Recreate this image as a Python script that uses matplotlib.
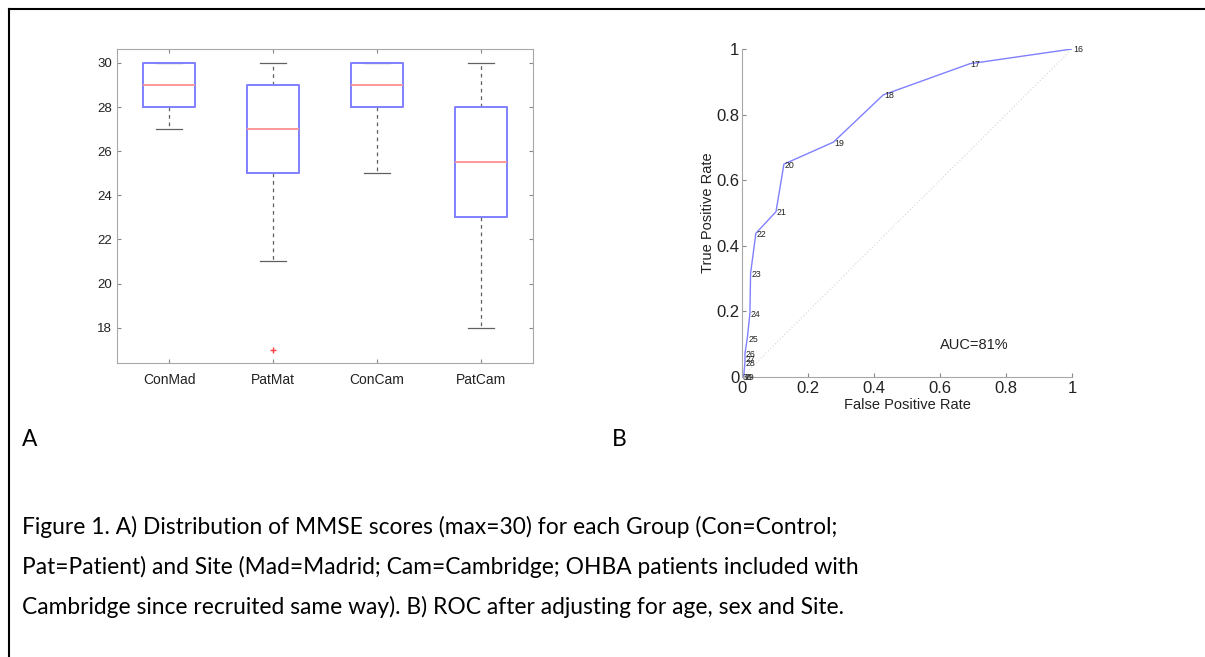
import matplotlib.pyplot as plt
from matplotlib.lines import Line2D

# Panel A - MMSE box plot stats
groups = ["ConMad", "PatMat", "ConCam", "PatCam"]
q1 = [28, 25, 28, 23]
med = [29, 27, 29, 25.5]
q3 = [30, 29, 30, 28]
whis_lo = [27, 21, 25, 18]
whis_hi = [30, 30, 30, 30]
outliers = [[], [17], [], []]
mmse_ticks = [18, 20, 22, 24, 26, 28, 30]

# Panel B - ROC curve (threshold labels 16..30)
fpr = [1.0, 0.69, 0.428, 0.277, 0.127, 0.103, 0.042, 0.026, 0.024, 0.016, 0.009, 0.009, 0.009, 0.005, 0.0]
tpr = [1.0, 0.955, 0.86, 0.716, 0.649, 0.504, 0.438, 0.316, 0.194, 0.118, 0.072, 0.055, 0.045, 0.0, 0.0]
thresholds = [16, 17, 18, 19, 20, 21, 22, 23, 24, 25, 26, 27, 28, 29, 30]
roc_ticks = [0, 0.2, 0.4, 0.6, 0.8, 1]
roc_ticklabels = ["0", "0.2", "0.4", "0.6", "0.8", "1"]
auc_text = "AUC=81%"

caption = ["Figure 1. A) Distribution of MMSE scores (max=30) for each Group (Con=Control;",
           "Pat=Patient) and Site (Mad=Madrid; Cam=Cambridge; OHBA patients included with",
           "Cambridge since recruited same way). B) ROC after adjusting for age, sex and Site."]

plt.rcParams['font.family'] = ['Liberation Sans', 'DejaVu Sans']

W, H = 1205, 657
fig = plt.figure(figsize=(W / 100, H / 100), dpi=100)

def fbox(x0, y0, x1, y1):
    # pixel box (top-left origin) -> figure fraction rect
    return [x0 / W, 1 - y1 / H, (x1 - x0) / W, (y1 - y0) / H]

spine_col = "#a8a8a8"
text_col = "#222222"

########################################################################################
# Panel A
axA = fig.add_axes(fbox(117, 49, 533, 363))
stats = []
for i in range(len(groups)):
    stats.append(dict(med=med[i], q1=q1[i], q3=q3[i], whislo=whis_lo[i],
                      whishi=whis_hi[i], fliers=outliers[i], label=groups[i]))
axA.bxp(stats, positions=range(1, 5), widths=0.5, showfliers=True,
        boxprops=dict(color="#8080ff", linewidth=1.4, zorder=4),
        medianprops=dict(color="#ff9090", linewidth=1.3, zorder=5),
        whiskerprops=dict(color="#606060", linewidth=0.9, linestyle=(0, (3, 3)), zorder=2),
        capprops=dict(color="#606060", linewidth=0.9, zorder=2),
        flierprops=dict(marker="+", markeredgecolor="#ff4040", markersize=5, linestyle="none"),
        capwidths=0.25)
axA.set_xlim(0.5, 4.5)
axA.set_ylim(16.4, 30.63)
axA.set_yticks(mmse_ticks)
axA.tick_params(direction="in", top=True, right=True, length=3, color="#888888",
                labelsize=9.5, labelcolor=text_col)
axA.tick_params(axis="x", labelsize=10, pad=7)
for s in axA.spines.values():
    s.set_color(spine_col)

########################################################################################
# Panel B
axB = fig.add_axes(fbox(742, 49, 1072, 377))
axB.plot([0, 1], [0, 1], linestyle=(0, (1, 2)), color="#d8d8d8", linewidth=0.8)
axB.plot(fpr, tpr, color="#8080ff", linewidth=1.0)
for x, y, t in zip(fpr, tpr, thresholds):
    axB.text(x + 0.003, y - 0.003, str(t), fontsize=6.3, va="center", ha="left", color=text_col)
axB.text(0.6, 0.098, auc_text, fontsize=10.5, color=text_col, va="center")
axB.set_xlim(0, 1)
axB.set_ylim(0, 1)
axB.set_xticks(roc_ticks)
axB.set_xticklabels(roc_ticklabels)
axB.set_yticks(roc_ticks)
axB.set_yticklabels(roc_ticklabels)
axB.spines["top"].set_visible(False)
axB.spines["right"].set_visible(False)
for s in ["left", "bottom"]:
    axB.spines[s].set_color(spine_col)
axB.tick_params(direction="in", length=3, color="#888888", labelsize=12,
                labelcolor=text_col, pad=3)
axB.tick_params(axis="y", pad=2)
axB.set_xlabel("False Positive Rate", fontsize=10.5, color=text_col, labelpad=1)
axB.set_ylabel("True Positive Rate", fontsize=10.5, color=text_col, labelpad=1)

########################################################################################
# Panel letters, caption and frame
fig.text(22 / W, 1 - 440 / H, "A", fontsize=16.4, family="Lato", va="center")
fig.text(612 / W, 1 - 440 / H, "B", fontsize=16.4, family="Lato", va="center")
for k, line in enumerate(caption):
    fig.text(22 / W, 1 - (527 + 40 * k) / H, line, fontsize=16.4, family="Lato", va="center")

fig.add_artist(Line2D([9 / W, 9 / W], [0, 1 - 9 / H], color="black", linewidth=1.5))
fig.add_artist(Line2D([9 / W, 1], [1 - 9 / H, 1 - 9 / H], color="black", linewidth=1.5))

fig.savefig("out.png", dpi=100)
